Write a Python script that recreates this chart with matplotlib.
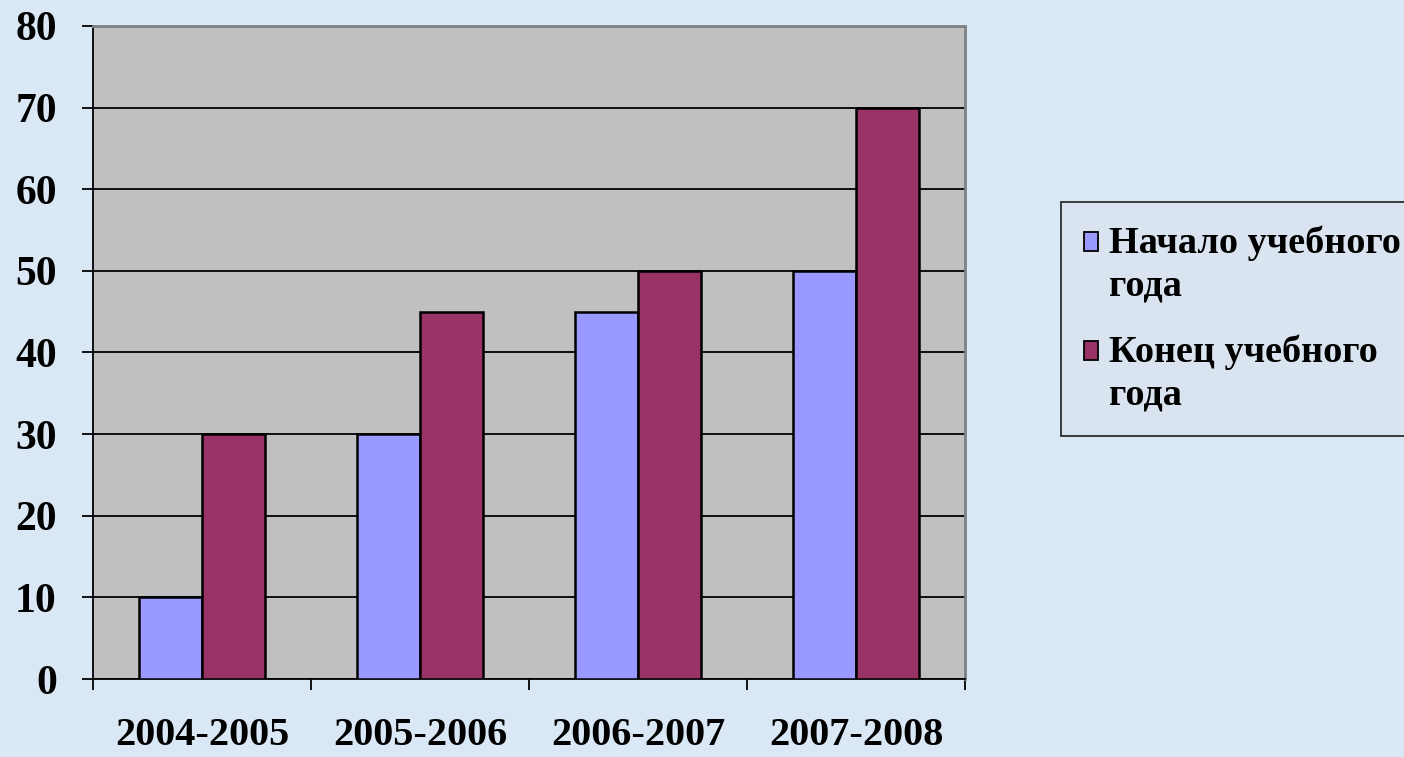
import matplotlib.pyplot as plt
import numpy as np

# Datos
periodos = ['2004-2005', '2005-2006', '2006-2007', '2007-2008']
inicio = [10, 30, 45, 50]
fin = [30, 45, 50, 70]
etiquetas = ['Начало учебного\nгода', 'Конец учебного\nгода']
colores = ['#9999FF', '#993366']

plt.rcParams['font.family'] = ['Liberation Serif', 'DejaVu Serif']
plt.rcParams['font.weight'] = 'bold'

fig = plt.figure(figsize=(14.04, 7.57), dpi=100)
fig.patch.set_facecolor('#dae8f5')
ax = fig.add_axes([0.0662, 0.1030, 0.6211, 0.8627])
ax.set_facecolor('#C0C0C0')

x = np.arange(len(periodos))
w = 0.287
ax.bar(x - w / 2, inicio, w, color=colores[0], edgecolor='black', linewidth=1.8,
       label=etiquetas[0], zorder=3)
ax.bar(x + w / 2, fin, w, color=colores[1], edgecolor='black', linewidth=1.8,
       label=etiquetas[1], zorder=3)

ax.set_xlim(-0.5, len(periodos) - 0.5)
ax.set_ylim(0, 80)
ax.set_yticks(range(0, 81, 10))
ax.yaxis.grid(True, color='black', linewidth=1.3, zorder=0)
ax.set_axisbelow(True)

# ticks en los limites de cada categoria
ax.set_xticks(np.arange(-0.5, len(periodos), 1.0))
ax.set_xticklabels([])
ax.set_xticks(x, minor=True)
ax.set_xticklabels(periodos, minor=True, fontsize=29, fontweight='bold')
ax.tick_params(axis='x', which='minor', length=0, pad=27)
ax.tick_params(axis='x', which='major', length=8, width=1.3, direction='out')
ax.tick_params(axis='y', length=8, width=1.3, pad=18, labelsize=30)

for s in ['left', 'bottom']:
    ax.spines[s].set_color('black')
    ax.spines[s].set_linewidth(1.3)
for s in ['top', 'right']:
    ax.spines[s].set_color('#808080')
    ax.spines[s].set_linewidth(2)

fs_leg = 27.5
leg = fig.legend(loc='upper left', bbox_to_anchor=(0.756, 0.733),
                 fontsize=fs_leg, frameon=True, fancybox=False,
                 handlelength=0.37, handleheight=0.37, handletextpad=0.28,
                 labelspacing=0.8, borderpad=0.6, borderaxespad=0)
leg.get_frame().set_edgecolor('black')
leg.get_frame().set_linewidth(1.3)
leg.get_frame().set_facecolor('#d9e4ef')
for t in leg.get_texts():
    t.set_linespacing(1.3)
# el cuadrito va a la altura de la primera linea
for p in leg.get_patches():
    p.set_linewidth(1.3)
    p.set_y(p.get_y() + 0.6 * fs_leg)

plt.savefig('out.png', dpi=100, facecolor=fig.get_facecolor())
